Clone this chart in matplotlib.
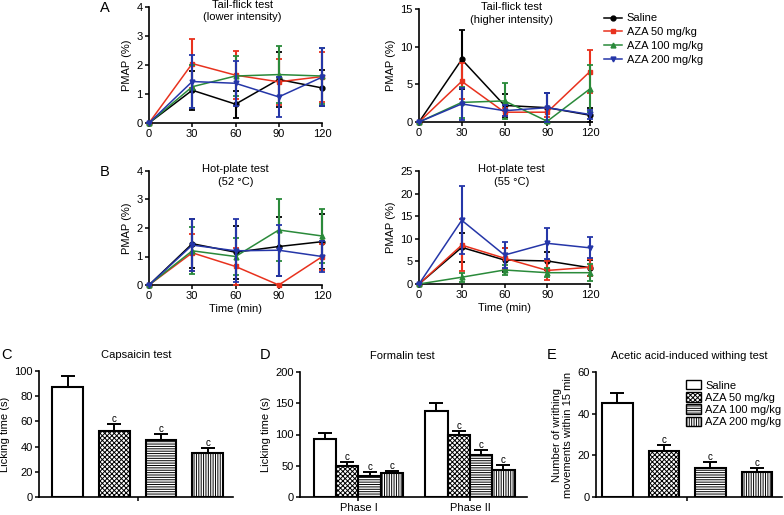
import matplotlib
matplotlib.use("Agg")
import matplotlib.pyplot as plt
import numpy as np
from matplotlib.patches import Patch

plt.rcParams['font.family'] = ['Liberation Sans', 'DejaVu Sans']
plt.rcParams['hatch.linewidth'] = 0.7

# ---------------- data ----------------
time = [0, 30, 60, 90, 120]
series_names = ['Saline', 'AZA 50 mg/kg', 'AZA 100 mg/kg', 'AZA 200 mg/kg']

tf_low_mean = [[0, 1.13, 0.65, 1.50, 1.21],
               [0, 2.05, 1.65, 1.42, 1.60],
               [0, 1.25, 1.62, 1.67, 1.62],
               [0, 1.43, 1.37, 0.90, 1.58]]
tf_low_err = [[0, 0.67, 0.47, 0.95, 0.62],
              [0, 0.85, 0.82, 0.80, 0.86],
              [0, 0.75, 0.70, 0.97, 0.95],
              [0, 0.90, 0.78, 0.68, 1.00]]

tf_high_mean = [[0, 8.3, 2.2, 1.9, 0.9],
                [0, 5.4, 1.3, 1.3, 6.7],
                [0, 2.6, 2.8, 0.1, 4.4],
                [0, 2.4, 1.5, 1.9, 1.0]]
tf_high_err = [[0, 3.9, 1.5, 1.9, 0.95],
               [0, 2.4, 0.5, 0.6, 2.9],
               [0, 2.1, 2.4, 0.2, 3.1],
               [0, 2.1, 0.7, 1.9, 0.6]]

hp52_mean = [[0, 1.45, 1.15, 1.35, 1.52],
             [0, 1.13, 0.65, 0.0, 0.99],
             [0, 1.20, 1.00, 1.93, 1.72],
             [0, 1.40, 1.20, 1.22, 1.00]]
hp52_err = [[0, 0.87, 0.93, 1.03, 0.96],
            [0, 0.65, 0.65, 0.0, 0.45],
            [0, 0.82, 0.66, 1.08, 0.95],
            [0, 0.90, 1.10, 0.90, 0.55]]

hp55_mean = [[0, 8.1, 5.3, 5.1, 3.6],
             [0, 8.6, 5.7, 3.0, 3.7],
             [0, 1.5, 3.1, 2.5, 2.5],
             [0, 14.1, 6.4, 9.0, 8.0]]
hp55_err = [[0, 3.2, 2.7, 1.9, 1.8],
            [0, 5.8, 2.3, 2.1, 1.9],
            [0, 1.0, 1.1, 1.0, 1.9],
            [0, 7.5, 2.8, 3.4, 2.3]]

caps_mean = [87, 52, 45, 35]
caps_err = [9, 6, 5, 4]
form_p1_mean = [93, 49, 34, 39]
form_p1_err = [10, 7, 6, 3]
form_p2_mean = [138, 100, 68, 44]
form_p2_err = [12, 6, 8, 7]
writh_mean = [45, 22, 14, 12]
writh_err = [5, 3, 3, 2]
sig_marks = ['', 'c', 'c', 'c']
phases = ['Phase I', 'Phase II']

# ---------------- styles ----------------
colors = ['#000000', '#e8321e', '#2a8a3a', '#2536a8']
markers = ['o', 's', '^', 'v']
hatches = [None, 'xxxxxxx', '-------', '|||||||']
FS = 8

fig = plt.figure(figsize=(7.84, 5.15), dpi=100)
W, H = 784.0, 515.0

def add_ax(x0, x1, ytop, ybot):
    return fig.add_axes([x0 / W, 1 - ybot / H, (x1 - x0) / W, (ybot - ytop) / H])

def style_ax(ax):
    for s in ['top', 'right']:
        ax.spines[s].set_visible(False)
    for s in ['left', 'bottom']:
        ax.spines[s].set_linewidth(1.2)
    ax.tick_params(direction='out', length=3, width=1.1, labelsize=FS, pad=1.5)

def line_panel(ax, means, errs, ymax, yticks, title, title_x):
    for i in range(4):
        ax.errorbar(time, means[i], yerr=errs[i], color=colors[i], marker=markers[i],
                    markersize=3.5, lw=1.1, elinewidth=1.5, capsize=2.5, capthick=1.3,
                    clip_on=False, zorder=3 + i)
    ax.set_xlim(0, 120)
    ax.set_ylim(0, ymax)
    ax.set_xticks(time)
    ax.set_yticks(yticks)
    ax.set_ylabel('PMAP (%)', fontsize=FS, labelpad=3)
    style_ax(ax)
    ax.text(title_x, 1.06, title, transform=ax.transAxes, ha='center', va='top',
            fontsize=FS, linespacing=1.3)

ax1 = add_ax(149, 322, 7, 123)
line_panel(ax1, tf_low_mean, tf_low_err, 4, [0, 1, 2, 3, 4],
           'Tail-flick test\n(lower intensity)', 0.54)
ax2 = add_ax(419, 590, 9, 122)
line_panel(ax2, tf_high_mean, tf_high_err, 15, [0, 5, 10, 15],
           'Tail-flick test\n(higher intensity)', 0.54)
ax3 = add_ax(149, 322, 171, 285)
line_panel(ax3, hp52_mean, hp52_err, 4, [0, 1, 2, 3, 4],
           'Hot-plate test\n(52 \u00b0C)', 0.50)
ax3.set_xlabel('Time (min)', fontsize=FS, labelpad=2)
ax4 = add_ax(419, 590, 171, 284)
line_panel(ax4, hp55_mean, hp55_err, 25, [0, 5, 10, 15, 20, 25],
           'Hot-plate test\n(55 \u00b0C)', 0.54)
ax4.set_xlabel('Time (min)', fontsize=FS, labelpad=2)

# line legend
handles = [plt.Line2D([], [], color=colors[i], marker=markers[i], markersize=3.5, lw=1.1)
           for i in range(4)]
fig.legend(handles, series_names, loc='upper left', bbox_to_anchor=(600 / W, 1 - 9 / H),
           frameon=False, fontsize=FS, handlelength=1.6, handletextpad=0.4,
           labelspacing=0.35, borderaxespad=0)

# ---------------- bar panels ----------------
def bars(ax, xs, means, errs, width):
    for i in range(4):
        ax.bar(xs[i], means[i], width=width, color='white', edgecolor='black',
               linewidth=1.5, hatch=hatches[i], zorder=2)
        ax.errorbar(xs[i], means[i], yerr=[[0], [errs[i]]], fmt='none', ecolor='black',
                    elinewidth=1.4, capsize=5, capthick=1.4, zorder=3)
        if sig_marks[i]:
            ax.text(xs[i], means[i] + errs[i], sig_marks[i], ha='center', va='bottom',
                    fontsize=7)

axC = add_ax(39, 233, 371, 497)
bars(axC, [0, 1, 2, 3], caps_mean, caps_err, 0.66)
axC.set_xlim(-0.61, 3.54)
axC.set_ylim(0, 100)
axC.set_yticks([0, 20, 40, 60, 80, 100])
axC.set_xticks([1.5])
axC.set_xticklabels([''])
axC.set_ylabel('Licking time (s)', fontsize=FS, labelpad=3)
style_ax(axC)
axC.text(0.5, 1.13, 'Capsaicin test', transform=axC.transAxes, ha='center', va='center',
         fontsize=FS)

axD = add_ax(300, 527, 372, 497)
bars(axD, [0, 1, 2, 3], form_p1_mean, form_p1_err, 1.0)
bars(axD, [5, 6, 7, 8], form_p2_mean, form_p2_err, 1.0)
axD.set_xlim(-1.12, 9.06)
axD.set_ylim(0, 200)
axD.set_yticks([0, 50, 100, 150, 200])
axD.set_xticks([1.5, 6.5])
axD.set_xticklabels(phases)
axD.set_ylabel('Licking time (s)', fontsize=FS, labelpad=3)
style_ax(axD)
axD.text(0.45, 1.13, 'Formalin test', transform=axD.transAxes, ha='center', va='center',
         fontsize=FS)

axE = add_ax(596, 782, 372, 497)
bars(axE, [0, 1, 2, 3], writh_mean, writh_err, 0.66)
axE.set_xlim(-0.46, 3.54)
axE.set_ylim(0, 60)
axE.set_yticks([0, 20, 40, 60])
axE.set_xticks([1.5])
axE.set_xticklabels([''])
axE.set_ylabel('Number of writhing\nmovements within 15 min', fontsize=FS, labelpad=3,
               linespacing=1.1)
style_ax(axE)
axE.text(0.5, 1.13, 'Acetic acid-induced withing test', transform=axE.transAxes,
         ha='center', va='center', fontsize=FS)
ph = [Patch(facecolor='white', edgecolor='black', hatch=hatches[i], linewidth=1.0)
      for i in range(4)]
axE.legend(ph, series_names, loc='upper right', bbox_to_anchor=(1.02, 0.97), frameon=False,
           fontsize=FS, handlelength=1.3, handleheight=0.9, handletextpad=0.4,
           labelspacing=0.15, borderaxespad=0)

# panel letters
for lbl, x, y in [('A', 105, 8), ('B', 105, 172), ('C', 7, 355), ('D', 265, 355),
                  ('E', 552, 355)]:
    fig.text(x / W, 1 - y / H, lbl, fontsize=10.5, ha='center', va='center')

fig.savefig('out.png', dpi=100)
